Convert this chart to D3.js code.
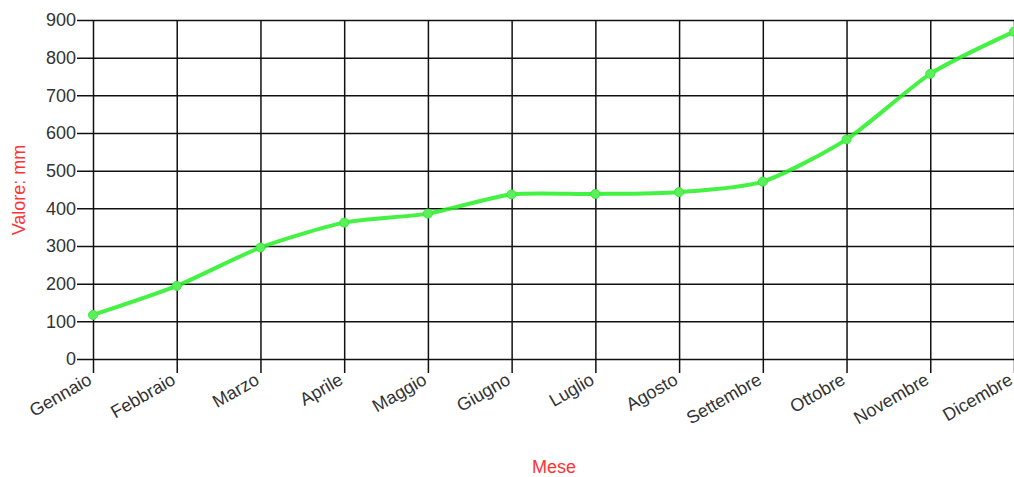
<!DOCTYPE html>
<html>
<head>
<meta charset="utf-8">
<script src="https://cdn.jsdelivr.net/npm/d3@7"></script>
<style>
  body { margin: 0; background: #fff; }
  text { font-family: "Liberation Sans", Arial, sans-serif; }
</style>
</head>
<body>
<div id="chart_area"></div>
<script>
// data
const months = ['Gennaio', 'Febbraio', 'Marzo', 'Aprile', 'Maggio', 'Giugno',
  'Luglio', 'Agosto', 'Settembre', 'Ottobre', 'Novembre', 'Dicembre'];
const values = [117, 194, 296, 362, 386, 437, 438, 443, 471, 583, 757, 869];
const yTicks = [0, 100, 200, 300, 400, 500, 600, 700, 800, 900];

const width = 1014;
const height = 477;
const margin = { top: 20, right: 0, bottom: 118, left: 93 };
const w = width - margin.left - margin.right;
const h = height - margin.top - margin.bottom;

const svg = d3.select('#chart_area')
  .append('svg')
  .attr('width', width)
  .attr('height', height);

const g = svg.append('g')
  .attr('transform', 'translate(' + margin.left + ',' + margin.top + ')');

const x = d3.scalePoint().domain(months).range([0, w]).padding(0);
const y = d3.scaleLinear().domain([0, 900]).range([h, 0]);

// y axis + horizontal grid
const yAxis = g.append('g')
  .call(d3.axisLeft(y).tickValues(yTicks).tickSize(-w).tickSizeOuter(0));
yAxis.select('.domain').remove();
yAxis.selectAll('.tick line')
  .attr('x1', -16)
  .attr('stroke', '#111')
  .attr('stroke-width', 1.5);
yAxis.selectAll('.tick text')
  .attr('x', -17)
  .attr('font-size', 18)
  .attr('fill', '#333');

// x axis + vertical grid
const xAxis = g.append('g')
  .attr('transform', 'translate(0,' + h + ')')
  .call(d3.axisBottom(x).tickSize(-h).tickSizeOuter(0));
xAxis.select('.domain').remove();
xAxis.selectAll('.tick line')
  .attr('y1', 14)
  .attr('stroke', '#111')
  .attr('stroke-width', 1.5);
xAxis.selectAll('.tick text')
  .attr('font-size', 18)
  .attr('fill', '#333')
  .attr('text-anchor', 'end')
  .attr('x', 0)
  .attr('y', 0)
  .attr('dy', '0.72em')
  .attr('transform', 'translate(-7,13) rotate(-30)');

// line
const line = d3.line()
  .x((d, i) => x(months[i]))
  .y((d) => y(d))
  .curve(d3.curveCardinal.tension(0.3));

g.append('path')
  .datum(values)
  .attr('fill', 'none')
  .attr('stroke', '#22f022')
  .attr('stroke-opacity', 0.85)
  .attr('stroke-width', 4)
  .attr('d', line);

g.selectAll('circle.pt')
  .data(values)
  .enter()
  .append('circle')
  .attr('class', 'pt')
  .attr('cx', (d, i) => x(months[i]))
  .attr('cy', (d) => y(d))
  .attr('r', 4.5)
  .attr('fill', '#5cee5c')
  .attr('stroke', '#33ee33')
  .attr('stroke-width', 1);

// axis titles
svg.append('text')
  .attr('x', 554)
  .attr('y', 473)
  .attr('text-anchor', 'middle')
  .attr('font-size', 18)
  .attr('fill', '#ff3333')
  .text('Mese');

svg.append('text')
  .attr('transform', 'translate(25,190) rotate(-90)')
  .attr('text-anchor', 'middle')
  .attr('font-size', 18)
  .attr('fill', '#ff3333')
  .text('Valore: mm');
</script>
</body>
</html>
